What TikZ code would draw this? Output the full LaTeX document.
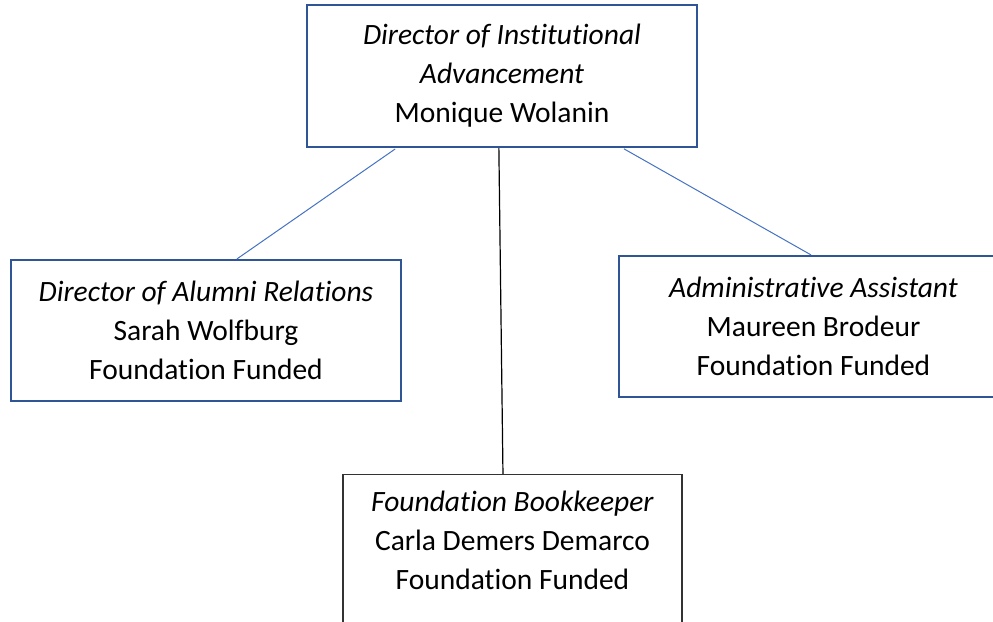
\documentclass[tikz,border=0pt]{standalone}
\usepackage{fontspec}
\setmainfont{Carlito}[Ligatures=NoCommon]
\usetikzlibrary{calc}
\definecolor{boxblue}{HTML}{2F5597}
\definecolor{lineblue}{HTML}{4472C4}
\tikzset{
  orgbox/.style={draw=boxblue, line width=2.2pt, inner sep=0pt, align=center,
    font=\fontsize{29.5}{39}\selectfont},
  bookbox/.style={draw=black!80, line width=1.3pt, inner sep=0pt},
  booktext/.style={align=center, font=\fontsize{29.5}{39}\selectfont},
  bluelink/.style={draw=lineblue, line width=1pt},
  blacklink/.style={draw=black, line width=1.2pt}
}
\begin{document}
\begin{tikzpicture}[x=1pt, y=-1pt]
  \useasboundingbox (0,0) rectangle (993,621);
  \clip (0,0) rectangle (993,621);
  \node (dir) [orgbox, minimum width=390pt, minimum height=142pt] at (502,76)
    {\textit{Director of Institutional}\\ \textit{Advancement}\\ Monique Wolanin};
  \node (alum) [orgbox, minimum width=390pt, minimum height=141pt] at (206,330.5)
    {\textit{Director of Alumni Relations}\\ Sarah Wolfburg\\ Foundation Funded};
  \node (admin) [orgbox, minimum width=389pt, minimum height=141pt] at (813.5,326.5)
    {\textit{Administrative Assistant}\\ Maureen Brodeur\\ Foundation Funded};
  \node (book) [bookbox, minimum width=339pt, minimum height=170pt, anchor=north] at (512.5,474) {};
  \node (booktxt) [booktext, anchor=center] at ($(book.north)+(0,66.5)$)
    {\textit{Foundation Bookkeeper}\\ Carla Demers Demarco\\ Foundation Funded};
  \draw[bluelink, shorten <=1.5pt] ($(dir.south west)!0.2308!(dir.south east)$) -- ($(alum.north west)!0.579!(alum.north east)$);
  \draw[bluelink, shorten <=1.5pt] ($(dir.south west)!0.8077!(dir.south east)$) -- ($(admin.north west)!0.4936!(admin.north east)$);
  \draw[blacklink] ($(dir.south west)!0.492!(dir.south east)$) -- ($(book.north west)!0.472!(book.north east)$);
\end{tikzpicture}
\end{document}
